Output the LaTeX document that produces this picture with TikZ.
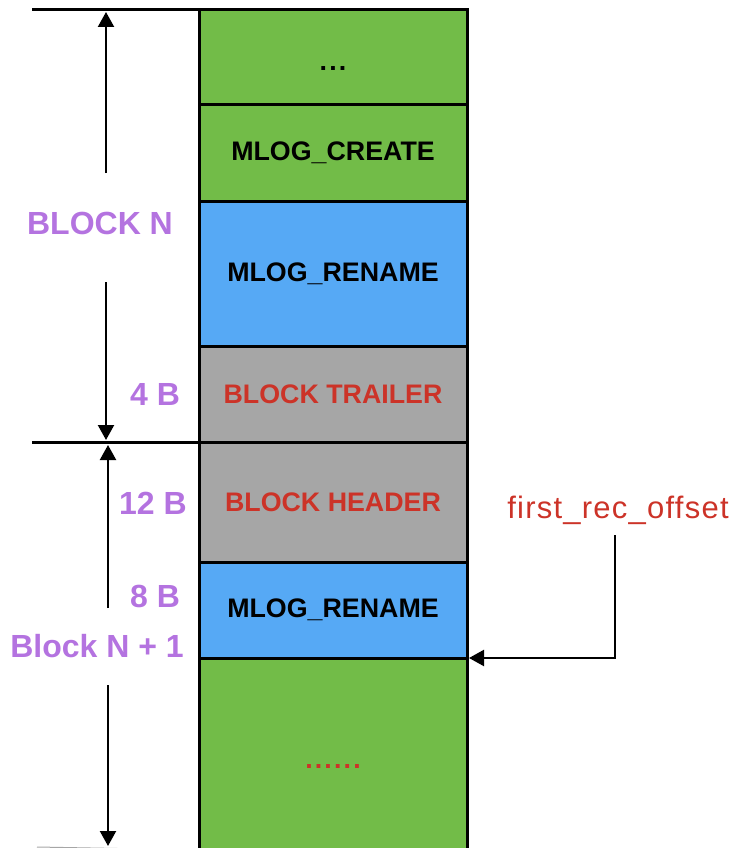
\documentclass[tikz,border=0pt]{standalone}
\usepackage{fontspec}
\setmainfont{Liberation Sans}
\usetikzlibrary{arrows.meta}
\definecolor{cellgreen}{HTML}{72BC48}
\definecolor{cellblue}{HTML}{56A9F5}
\definecolor{cellgray}{HTML}{A6A6A6}
\definecolor{sizepurple}{HTML}{B473E0}
\definecolor{markred}{HTML}{CC3328}
\newcommand{\filler}[2]{\raisebox{#1}[0pt][0pt]{\addfontfeatures{LetterSpace=8}#2}}
\begin{document}
\begin{tikzpicture}[x=1pt,y=-1pt,
  cell/.style={draw=black, line width=3pt, minimum width=268pt, inner sep=0pt, outer sep=0pt,
    anchor=north west, font=\bfseries\fontsize{26.8}{27}\selectfont},
  sizelabel/.style={text=sizepurple, inner sep=0pt, font=\bfseries\fontsize{32}{32}\selectfont},
  dimline/.style={line width=2.2pt, -{Triangle[length=15pt,width=16pt]}},
  rule/.style={line width=3pt}]
\useasboundingbox (0,0) rectangle (732,848);

% memory column
\node[cell, fill=cellgreen, minimum height=95pt]  (dots)    at (199,10)  {\filler{-13pt}{...}};
\node[cell, fill=cellgreen, minimum height=96pt]  (create)  at (199,105) {MLOG\_CREATE};
\node[cell, fill=cellblue,  minimum height=145pt] (rename)  at (199,201) {MLOG\_RENAME};
\node[cell, fill=cellgray,  minimum height=96pt, text=markred]  (trailer) at (199,346) {BLOCK TRAILER};
\node[cell, fill=cellgray,  minimum height=120pt, text=markred] (header)  at (199,442) {BLOCK HEADER};
\node[cell, fill=cellblue,  minimum height=96pt]  (renameb) at (199,562) {MLOG\_RENAME};
\node[cell, draw=none, fill=cellgreen, minimum height=192pt, text=markred] (rest) at (199,658) {\filler{-14pt}{......}};
\draw[rule] (rest.north west) -- (rest.south west);
\draw[rule] (rest.north east) -- (rest.south east);
\draw[rule] (rest.north west) -- (rest.north east);

% block boundaries
\coordinate (topL) at (32,10);
\coordinate (midL) at (32,442);
\coordinate (botL) at (37,847);
\draw[rule] (topL) -- (dots.north west);
\draw[rule] (midL) -- (trailer.south west);
\draw[line width=1pt, gray!70] (botL) -- (rest.south west);

% block N dimension
\node[sizelabel] (blockN) at (100,223) {BLOCK N};
\coordinate (nUpS) at (106,173);
\coordinate (nUpE) at (106,12);
\coordinate (nDnS) at (106,282);
\coordinate (nDnE) at (106,440);
\draw[dimline] (nUpS) -- (nUpE);
\draw[dimline] (nDnS) -- (nDnE);
\node[sizelabel] (fourB) at (155,394) {4 B};

% block N+1 dimension
\node[sizelabel] (twelveB) at (153,503) {12 B};
\node[sizelabel] (eightB) at (155,596) {8 B};
\node[sizelabel] (blockN1) at (97,646) {Block N + 1};
\coordinate (mUpS) at (108,608);
\coordinate (mUpE) at (108,445);
\coordinate (mDnS) at (108,685);
\coordinate (mDnE) at (108,846);
\draw[dimline] (mUpS) -- (mUpE);
\draw[dimline] (mDnS) -- (mDnE);

% first record offset pointer
\node[text=markred, inner sep=0pt, font=\fontsize{31}{31}\selectfont\addfontfeatures{LetterSpace=4}] (offset) at (618,510) {first\_rec\_offset};
\coordinate (bend) at (615,658);
\coordinate (offTop) at (615,535);
\draw[line width=2.2pt, -{Triangle[length=15pt,width=16pt]}] (offTop) -- (bend) -- ([xshift=2pt]renameb.south east);
\end{tikzpicture}
\end{document}
